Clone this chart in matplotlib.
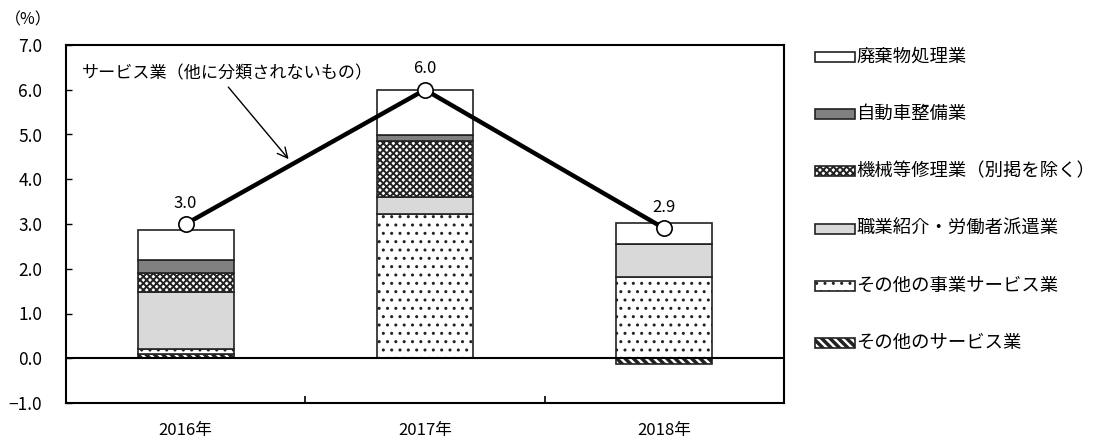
import matplotlib
matplotlib.use("Agg")
import matplotlib.pyplot as plt
from matplotlib.patches import Rectangle
import numpy as np

plt.rcParams["font.family"] = ["Noto Sans CJK JP", "DejaVu Sans"]

# ── data (contribution, %) ─────────────────────────────────
years = ["2016年", "2017年", "2018年"]
total = [3.0, 6.0, 2.9]
other_services = [0.10, 0.00, -0.13]     # その他のサービス業
other_business = [0.10, 3.22, 1.82]      # その他の事業サービス業
employment = [1.27, 0.39, 0.73]          # 職業紹介・労働者派遣業
machinery = [0.43, 1.25, 0.00]           # 機械等修理業（別掲を除く）
auto_repair = [0.30, 0.13, 0.00]         # 自動車整備業
waste = [0.67, 1.00, 0.48]               # 廃棄物処理業

y_ticks = [-1, 0, 1, 2, 3, 4, 5, 6, 7]

# stacking order bottom -> top, with style
series = [
    ("その他のサービス業", other_services, dict(facecolor="white", hatch="\\\\\\\\", hlw=2.5)),
    ("その他の事業サービス業", other_business, dict(facecolor="white", hatch="..", hlw=1.0)),
    ("職業紹介・労働者派遣業", employment, dict(facecolor="#d9d9d9", hatch=None, hlw=1.0)),
    ("機械等修理業（別掲を除く）", machinery, dict(facecolor="white", hatch="xxxxx", hlw=1.4)),
    ("自動車整備業", auto_repair, dict(facecolor="#808080", hatch=None, hlw=1.0)),
    ("廃棄物処理業", waste, dict(facecolor="white", hatch=None, hlw=1.0)),
]

fig = plt.figure(figsize=(11.02, 4.41), dpi=100)
ax = fig.add_axes([66 / 1102, 38 / 441, 718 / 1102, 358 / 441])

x = np.arange(len(years))
pos_bottom = np.zeros(len(years))
neg_bottom = np.zeros(len(years))
for name, vals, st in series:
    vals = np.array(vals, dtype=float)
    bottom = np.where(vals >= 0, pos_bottom, neg_bottom)
    with plt.rc_context({"hatch.linewidth": st["hlw"]}):
        ax.bar(x, vals, width=0.4, bottom=bottom, facecolor=st["facecolor"],
               edgecolor="#222222", linewidth=1.2, hatch=st["hatch"], zorder=2)
    pos_bottom += np.where(vals >= 0, vals, 0)
    neg_bottom += np.where(vals < 0, vals, 0)

# total line
ax.plot(x, total, color="black", linewidth=3.2, marker="o", markersize=11,
        markerfacecolor="white", markeredgecolor="black", markeredgewidth=1.2, zorder=4)
for xi, v in zip(x, total):
    ax.annotate(f"{v:.1f}", (xi, v), xytext=(0, 15), textcoords="offset points",
                ha="center", va="center", fontsize=12)

ax.annotate("サービス業（他に分類されないもの）", xy=(0.43, 4.45), xytext=(-0.435, 6.37),
            fontsize=12.3, ha="left", va="center",
            arrowprops=dict(arrowstyle="->", color="black", lw=1.0,
                            shrinkA=2, shrinkB=0, mutation_scale=18,
                            relpos=(0.49, 0.0)))

ax.axhline(0, color="black", linewidth=1.5, zorder=3)

ax.set_xlim(-0.5, 2.5)
ax.set_ylim(-1, 7)
ax.set_yticks(y_ticks)
ax.set_yticklabels([f"{t:.1f}".replace("-", "\u2212") for t in y_ticks])
ax.tick_params(axis="y", direction="in", length=4, width=1, pad=17, labelsize=12.5)
ax.set_xticks(x)
ax.set_xticklabels(years)
ax.tick_params(axis="x", which="major", length=0, pad=14, labelsize=12)
ax.set_xticks([0.5, 1.5], minor=True)
ax.tick_params(axis="x", which="minor", direction="in", length=5, width=1.2)
for sp in ax.spines.values():
    sp.set_linewidth(1.5)

fig.text(28 / 1102, 1 - 20 / 441, "（%）", fontsize=11.5, ha="center", va="center")

# legend (drawn top -> bottom)
leg_y = [57, 114, 171, 229, 286, 343]
for (name, vals, st), ly in zip(series[::-1], leg_y):
    with plt.rc_context({"hatch.linewidth": st["hlw"]}):
        r = Rectangle((815 / 1102, 1 - (ly + 5) / 441), 40 / 1102, 10 / 441,
                      transform=fig.transFigure, facecolor=st["facecolor"],
                      edgecolor="#222222", linewidth=1.2, hatch=st["hatch"])
    fig.add_artist(r)
    fig.text(856 / 1102, 1 - ly / 441, name, fontsize=13.2, ha="left", va="center")

fig.savefig("out.png", dpi=100)
